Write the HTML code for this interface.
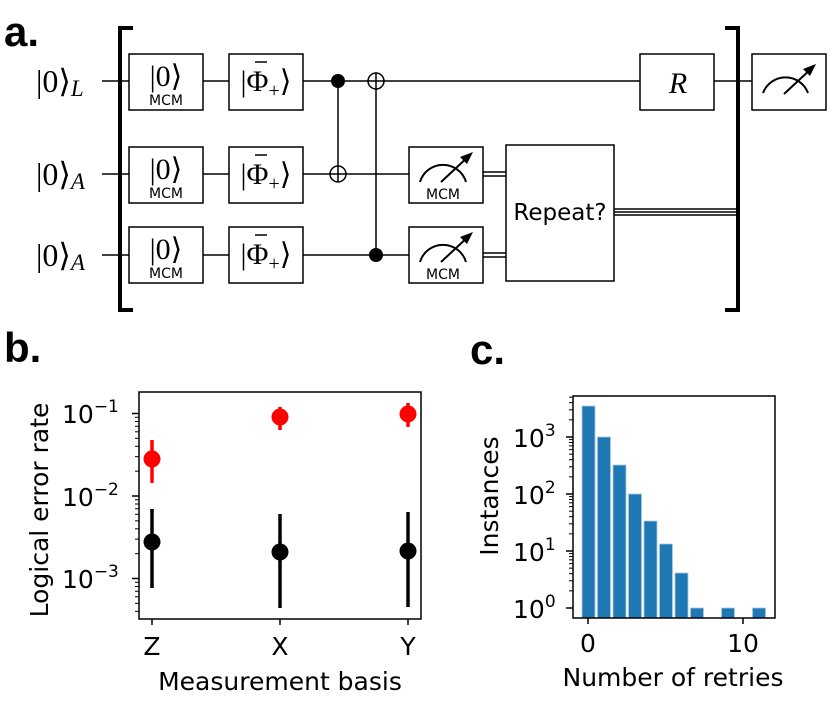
<!DOCTYPE html>
<html><head><meta charset="utf-8"><style>
html,body{margin:0;padding:0;background:#fff}
svg{display:block}
.s{font-family:"Liberation Serif",serif}
.a{font-family:"DejaVu Sans","Liberation Sans",sans-serif}
</style></head><body>
<svg id="g" width="830" height="710" viewBox="0 0 830 710" xmlns="http://www.w3.org/2000/svg">
<rect width="830" height="710" fill="#fff"/>
<g font-family="Liberation Sans,sans-serif" font-weight="bold" font-size="42">
<text x="4" y="46">a.</text><text x="4" y="362">b.</text><text x="470" y="364">c.</text></g>
<g stroke="#000" stroke-width="1.5" fill="none">
<line x1="102" y1="81" x2="752" y2="81"/>
<line x1="102" y1="174" x2="409" y2="174"/>
<line x1="102" y1="255" x2="409" y2="255"/>
<line x1="338" y1="81" x2="338" y2="180"/>
<line x1="376" y1="75" x2="376" y2="255"/>
<line x1="483" y1="172" x2="506" y2="172"/><line x1="483" y1="176" x2="506" y2="176"/>
<line x1="483" y1="253" x2="506" y2="253"/><line x1="483" y1="257" x2="506" y2="257"/>
<line x1="614" y1="209" x2="738" y2="209"/><line x1="614" y1="212" x2="738" y2="212"/><line x1="614" y1="215" x2="738" y2="215"/>
</g>
<g fill="#fff" stroke="#000" stroke-width="1.5">
<rect x="129" y="54" width="74" height="56"/><rect x="129" y="147" width="74" height="56"/><rect x="129" y="227" width="74" height="56"/>
<rect x="229" y="54" width="74" height="56"/><rect x="229" y="147" width="74" height="56"/><rect x="229" y="227" width="74" height="56"/>
<rect x="409" y="147" width="74" height="56"/><rect x="409" y="227" width="74" height="56"/>
<rect x="506" y="145" width="108" height="136"/>
<rect x="640" y="54" width="74" height="56"/>
<rect x="752" y="54" width="74" height="56"/>
<circle cx="338" cy="174" r="8"/><circle cx="376" cy="81" r="8"/>
</g>
<g stroke="#000" stroke-width="1.5">
<line x1="330" y1="174" x2="346" y2="174"/><line x1="368" y1="81" x2="384" y2="81"/>
<line x1="376" y1="73" x2="376" y2="89"/><line x1="338" y1="166" x2="338" y2="182"/></g>
<circle cx="338" cy="81" r="7" fill="#000"/><circle cx="376" cy="255" r="7" fill="#000"/>
<g stroke="#000" stroke-width="4" fill="none">
<polyline points="133,28 120,28 120,310 133,310"/>
<polyline points="725,28 738,28 738,310 725,310"/></g>
<g stroke="#000" stroke-width="2" fill="none">
<path d="M420,182 A24,24 0 0 1 466,182"/><line x1="441" y1="182" x2="470" y2="155"/>
<path d="M420,262 A24,24 0 0 1 466,262"/><line x1="441" y1="262" x2="470" y2="235"/>
<path d="M763,93 A24,24 0 0 1 808,93"/><line x1="784" y1="94" x2="813" y2="67"/></g>
<g fill="#000"><polygon points="473,152 460,157 467,164"/><polygon points="473,232 460,237 467,244"/><polygon points="816,64 803,69 810,76"/></g>
<g class="a" font-size="14" text-anchor="middle">
<text x="166" y="105">MCM</text><text x="166" y="198">MCM</text><text x="166" y="278">MCM</text>
<text x="443" y="199">MCM</text><text x="443" y="279">MCM</text></g>
<g class="s" font-size="30" text-anchor="middle">
<text x="166" y="86">|0⟩</text><text x="166" y="179">|0⟩</text><text x="166" y="259">|0⟩</text>
<text x="266" y="91">|Φ<tspan font-size="20" dy="6">+</tspan><tspan dy="-6">⟩</tspan></text>
<text x="266" y="184">|Φ<tspan font-size="20" dy="6">+</tspan><tspan dy="-6">⟩</tspan></text>
<text x="266" y="264">|Φ<tspan font-size="20" dy="6">+</tspan><tspan dy="-6">⟩</tspan></text>
<text x="678" y="93" font-style="italic">R</text></g>
<g stroke="#000" stroke-width="1.5"><line x1="255" y1="62" x2="267" y2="62"/><line x1="255" y1="155" x2="267" y2="155"/><line x1="255" y1="235" x2="267" y2="235"/></g>
<g class="s" font-size="32">
<text x="36" y="92">|0⟩<tspan font-style="italic" font-size="23" dy="4">L</tspan></text>
<text x="36" y="185">|0⟩<tspan font-style="italic" font-size="23" dy="4">A</tspan></text>
<text x="36" y="266">|0⟩<tspan font-style="italic" font-size="23" dy="4">A</tspan></text></g>
<text class="a" x="560" y="220" font-size="23" text-anchor="middle">Repeat?</text>
<rect x="139" y="392" width="282" height="227" fill="none" stroke="#000" stroke-width="1.5"/>
<g id="tb" stroke="#000"></g>
<g stroke="#000" stroke-width="1.5"><line x1="152" y1="619" x2="152" y2="625"/><line x1="280" y1="619" x2="280" y2="625"/><line x1="408" y1="619" x2="408" y2="625"/></g>
<g stroke="#f00" stroke-width="3.5"><line x1="152" y1="440" x2="152" y2="483"/><line x1="280" y1="407" x2="280" y2="430"/><line x1="408" y1="403" x2="408" y2="427"/></g>
<g fill="#f00"><circle cx="152" cy="459" r="8.5"/><circle cx="280" cy="417" r="8.5"/><circle cx="408" cy="414" r="8.5"/></g>
<g stroke="#000" stroke-width="3.5"><line x1="152" y1="509" x2="152" y2="588"/><line x1="280" y1="514" x2="280" y2="608"/><line x1="408" y1="512" x2="408" y2="607"/></g>
<g fill="#000"><circle cx="152" cy="542" r="8.5"/><circle cx="280" cy="552" r="8.5"/><circle cx="408" cy="551" r="8.5"/></g>
<g class="a" font-size="25">
<text x="62" y="423">10<tspan font-size="17" dy="-11">−1</tspan></text>
<text x="62" y="506">10<tspan font-size="17" dy="-11">−2</tspan></text>
<text x="62" y="588">10<tspan font-size="17" dy="-11">−3</tspan></text>
<g text-anchor="middle"><text x="152" y="655">Z</text><text x="280" y="655">X</text><text x="408" y="655">Y</text>
<text x="280" y="690">Measurement basis</text>
<text transform="translate(48,510) rotate(-90)">Logical error rate</text></g></g>
<g fill="#1f77b4" stroke="#a9c8e3" stroke-width="0.8">
<rect x="582" y="406" width="13" height="212"/><rect x="597.5" y="437" width="13" height="181"/>
<rect x="613" y="465" width="13" height="153"/><rect x="628.5" y="494" width="13" height="124"/>
<rect x="644" y="521" width="13" height="97"/><rect x="659.5" y="544" width="13" height="74"/>
<rect x="675" y="573" width="13" height="45"/><rect x="690.5" y="608" width="13" height="10"/>
<rect x="721.5" y="608" width="13" height="10"/><rect x="752.5" y="608" width="13" height="10"/></g>
<rect x="573" y="396" width="202" height="222" fill="none" stroke="#000" stroke-width="1.5"/>
<g id="tc" stroke="#000"></g>
<g stroke="#000" stroke-width="1.5"><line x1="588" y1="618" x2="588" y2="624"/><line x1="743" y1="618" x2="743" y2="624"/></g>
<g class="a" font-size="25">
<text x="513" y="447">10<tspan font-size="17" dy="-11">3</tspan></text>
<text x="513" y="504">10<tspan font-size="17" dy="-11">2</tspan></text>
<text x="513" y="561">10<tspan font-size="17" dy="-11">1</tspan></text>
<text x="513" y="618">10<tspan font-size="17" dy="-11">0</tspan></text>
<g text-anchor="middle"><text x="588" y="652">0</text><text x="743" y="652">10</text>
<text x="673" y="686">Number of retries</text>
<text transform="translate(498,496) rotate(-90)">Instances</text></g></g>
</svg>
<script>
function ticks(id,x,y0,per,dmin,dmax,top,bot){var g=document.getElementById(id),s="";
for(var d=dmin;d<=dmax;d++){for(var m=1;m<10;m++){var y=y0-(d-dmin)*per-Math.log10(m)*per;if(y<top||y>bot)continue;
var L=m==1?7:4;s+='<line x1="'+(x-L)+'" y1="'+y+'" x2="'+x+'" y2="'+y+'" stroke-width="'+(m==1?1.5:1)+'"/>';}}g.innerHTML=s;}
ticks("tb",139,661,82.5,-4,-1,392,619);
ticks("tc",573,608,57,-1,3,396,618);
</script>
</body></html>
